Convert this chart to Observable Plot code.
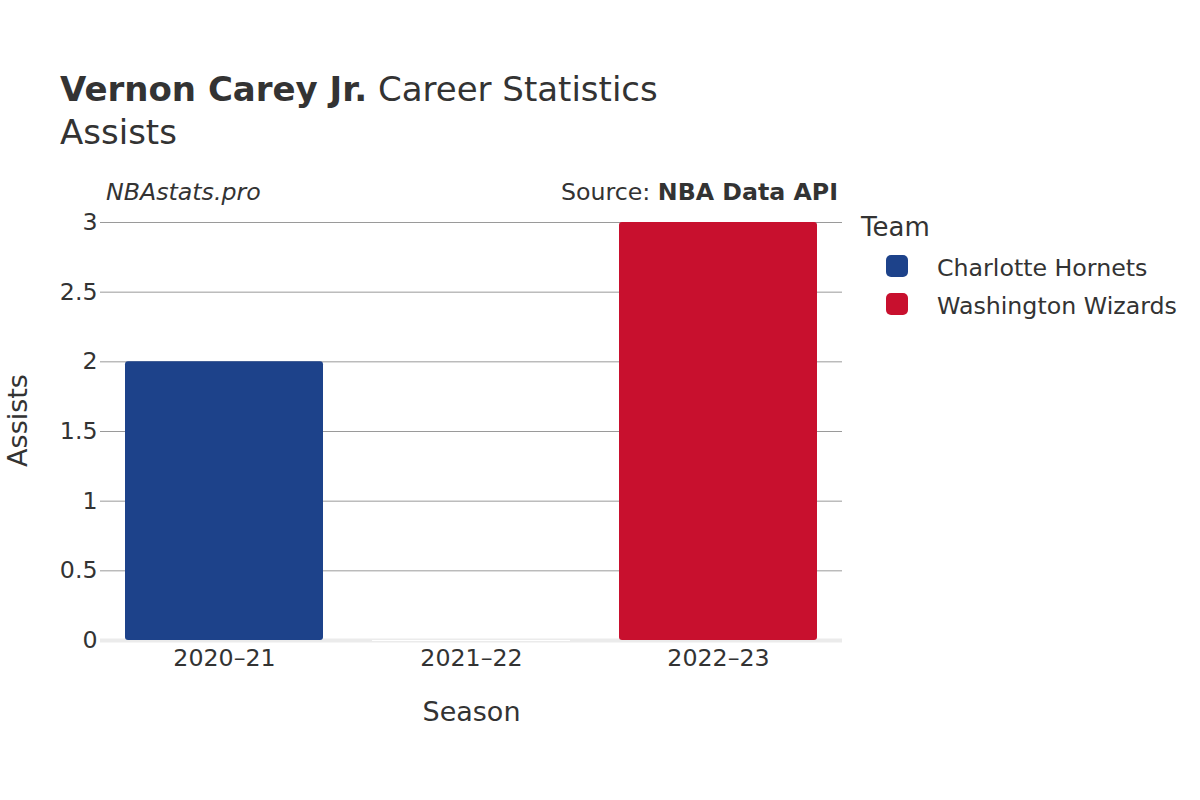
<!DOCTYPE html>
<html>
<head>
<meta charset="utf-8">
<script src="https://cdn.jsdelivr.net/npm/d3@7"></script>
<script src="https://cdn.jsdelivr.net/npm/@observablehq/plot@0.6"></script>
<style>
  html, body { margin: 0; padding: 0; background: #fff; }
  body { font-family: "DejaVu Sans", sans-serif; color: #333; }
  #wrap { position: relative; width: 1200px; height: 800px; overflow: hidden; }
  .abs { position: absolute; white-space: nowrap; line-height: 1; }
  #chart { position: absolute; left: 0; top: 0; }
  .sw { position: absolute; width: 22px; height: 22px; border-radius: 5px; }
</style>
</head>
<body>
<div id="wrap">
  <div id="chart"></div>
  <div class="abs" style="left:60px; top:72px; font-size:34px; color:#333;"><b>Vernon Carey Jr.</b> Career Statistics</div>
  <div class="abs" style="left:60px; top:115px; font-size:34px; color:#333;">Assists</div>
  <div class="abs" style="left:106px; top:181px; font-size:23.7px; font-style:italic; color:#333;">NBAstats.pro</div>
  <div class="abs" style="right:362px; top:181px; font-size:23.7px; color:#333;">Source: <b>NBA Data API</b></div>
  <div id="legend"></div>
</div>
<script>
const seasons = ["2020–21", "2021–22", "2022–23"];
const teams = ["Charlotte Hornets", "Washington Wizards"];
const teamColors = ["#1D428A", "#C8102E"];
const barSeason = ["2020–21", "2021–22", "2022–23"];
const barTeam = ["Charlotte Hornets", "Washington Wizards", "Washington Wizards"];
const assists = [2, 0, 3];
const yTicks = [0, 0.5, 1, 1.5, 2, 2.5, 3];
const yTickLabels = ["0", "0.5", "1", "1.5", "2", "2.5", "3"];

const data = barSeason.map((s, i) => ({season: s, team: barTeam[i], value: assists[i]}));

const chart = Plot.plot({
  width: 1200,
  height: 800,
  marginLeft: 100,
  marginRight: 358,
  marginTop: 222,
  marginBottom: 160,
  style: {fontFamily: "DejaVu Sans, sans-serif", color: "#333", background: "transparent"},
  x: {domain: seasons, paddingInner: 0.2, paddingOuter: 0.1, label: null},
  y: {domain: [0, 3], label: null},
  color: {domain: teams, range: teamColors},
  marks: [
    Plot.gridY(yTicks.slice(1), {stroke: "#9a9a9a", strokeOpacity: 1, strokeWidth: 1}),
    Plot.ruleY([0], {stroke: "#ebebeb", strokeWidth: 4}),
    Plot.barY(data.filter(d => d.value > 0), {x: "season", y: "value", fill: "team", rx: 3}),
    Plot.ruleY(data.filter(d => d.value === 0), {
      y: "value",
      x1: d => d.season, x2: d => d.season,
      stroke: "#fff", strokeWidth: 1
    }),
    Plot.axisY(yTicks, {
      tickSize: 0, tickPadding: 3, fontSize: 23.7, fill: "#333",
      tickFormat: (d, i) => yTickLabels[i], label: null
    }),
    Plot.axisX({tickSize: 0, tickPadding: 9, fontSize: 23.7, fill: "#333", label: null}),
    Plot.text(["Season"], {frameAnchor: "bottom", dy: 72, fontSize: 27, fill: "#333", lineAnchor: "middle"}),
    Plot.text(["Assists"], {frameAnchor: "left", dx: -82, dy: -11, rotate: -90, fontSize: 27, fill: "#333", textAnchor: "middle", lineAnchor: "middle"})
  ]
});
document.getElementById("chart").appendChild(chart);

// Legend
const legend = document.getElementById("legend");
const t = document.createElement("div");
t.className = "abs";
t.style.cssText = "left:861px; top:214px; font-size:26px; color:#333;";
t.textContent = "Team";
legend.appendChild(t);
teams.forEach((name, i) => {
  const sw = document.createElement("div");
  sw.className = "sw";
  sw.style.left = "886px";
  sw.style.top = (255 + i * 38) + "px";
  sw.style.background = teamColors[i];
  legend.appendChild(sw);
  const lb = document.createElement("div");
  lb.className = "abs";
  lb.style.cssText = `left:937px; top:${257 + i * 38}px; font-size:23.7px; color:#333;`;
  lb.textContent = name;
  legend.appendChild(lb);
});
</script>
</body>
</html>
